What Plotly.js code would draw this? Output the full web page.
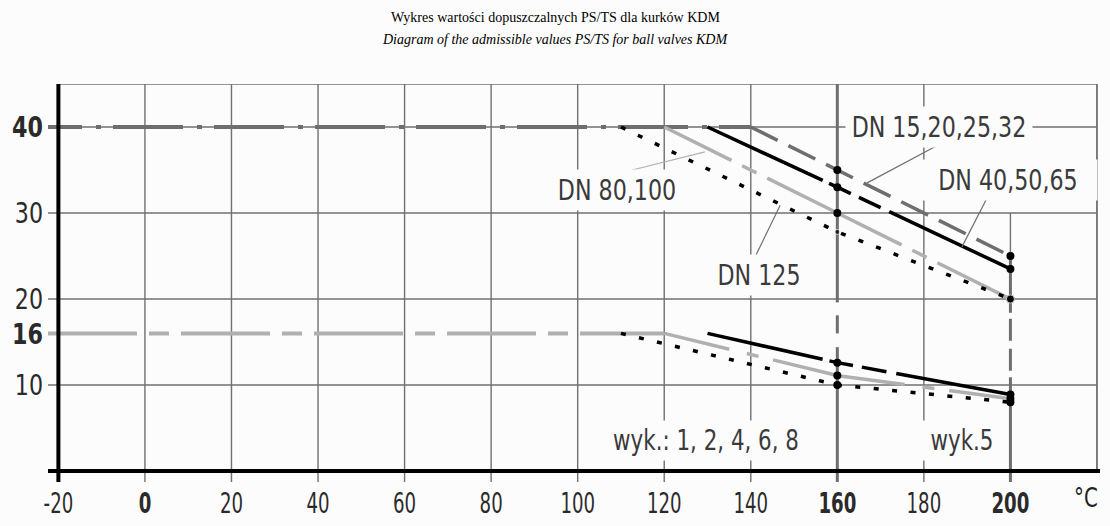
<!DOCTYPE html>
<html><head><meta charset="utf-8">
<script src="https://cdn.plot.ly/plotly-3.0.1.min.js"></script>
<style>html,body{margin:0;padding:0;background:#fcfcfc}</style>
</head><body><div id="chart" style="width:1110px;height:526px"></div>
<script>
// ---------- data ----------
const titlePL = 'Wykres wartości dopuszczalnych PS/TS dla kurków KDM';
const titleEN = 'Diagram of the admissible values PS/TS for ball valves KDM';

const tempTicks = [-20, 0, 20, 40, 60, 80, 100, 120, 140, 160, 180, 200];
const tempTickText = ['-20', '<b>0</b>', '20', '40', '60', '80', '100', '120', '140', '<b>160</b>', '180', '<b>200</b>'];
const pressTicks = [10, 16, 20, 30, 40];
const pressTickText = ['10', '<b>16</b>', '20', '30', '<b>40</b>'];

// PS 40 group (upper)
const pn40T = [-22.4, 140];        const pn40P = [40, 40];
const dn15T = [140, 160, 200];     const dn15P = [40, 35, 25];      // DN 15,20,25,32
const dn40T = [130, 160, 200];     const dn40P = [40, 33, 23.5];    // DN 40,50,65
const dn80T = [120, 160, 200];     const dn80P = [40, 30, 20];      // DN 80,100
const dn125T = [110, 160, 200];    const dn125P = [40, 27.8, 20];   // DN 125
// PS 16 group (lower)
const pn16T = [-22.4, 120];        const pn16P = [16, 16];
const low40T = [130, 160, 200];    const low40P = [16, 12.6, 8.9];
const low80T = [120, 160, 200];    const low80P = [16, 11.1, 8.4];
const low125T = [110, 160, 200];   const low125P = [16, 10, 8];

const labels = ['DN 15,20,25,32', 'DN 40,50,65', 'DN 80,100', 'DN 125', 'wyk.: 1, 2, 4, 6, 8', 'wyk.5'];

// ---------- styling ----------
const BG = '#fcfcfc';
const NARROW = 'Liberation Sans Narrow, DejaVu Sans Condensed, Arial Narrow, sans-serif';
const GRID = '#707070';
const DARK = '#6e6e6e';
const LIGHT = '#b0b0b0';

function line(x, y, color, width, dash) {
  return {x: x, y: y, type: 'scatter', mode: 'lines', hoverinfo: 'skip', showlegend: false,
          line: {color: color, width: width, dash: dash}};
}
function dots(x, y, sizes) {
  return {x: x.slice(1), y: y.slice(1), type: 'scatter', mode: 'markers', hoverinfo: 'skip', showlegend: false,
          cliponaxis: false, marker: {color: '#000', size: sizes}};
}

const traces = [
  line(pn40T, pn40P, DARK, 4, '34px,14px,5px,12px,36px,0px'),
  line(pn16T, pn16P, LIGHT, 4, '89px,12px,20px,12px'),
  line(dn15T, dn15P, DARK, 3.5, '30px,12px'),
  line(dn80T, dn80P, LIGHT, 3.5, '75px,12px,16px,12px,75px,0px'),
  line(dn125T, dn125P, '#000', 3.5, '5px,13.8px'),
  line(dn40T, dn40P, '#000', 3.5, '127px,7px,24px,9px,24px,9.5px,400px,10px'),
  line(low80T, low80P, LIGHT, 3.5, '67px,18px,12px,15px,67px,0px'),
  line(low125T, low125P, '#000', 3.5, '5px,13.5px'),
  line(low40T, low40P, '#000', 3.5, '118px,7px,24px,9px,25px,10px,400px,10px'),
  dots(dn15T, dn15P, 8), dots(dn40T, dn40P, 8), dots(dn80T, dn80P, 8), dots(dn125T, dn125P, [5, 8]),
  dots(low40T, low40P, 8), dots(low80T, low80P, 8), dots(low125T, low125P, 8)
];

// ---------- grid / frame shapes ----------
const xMin = -22.4, xMax = 220.7, yMin = -1.28, yMax = 45;
const gridX = [0, 20, 40, 60, 80, 100, 120, 140, 180];
const gridY = [10, 20, 30, 40];
const shapes = [];
function seg(x0, y0, x1, y1, color, width, dash, layer) {
  shapes.push({type: 'line', xref: 'x', yref: 'y', x0: x0, y0: y0, x1: x1, y1: y1, layer: layer || 'below',
               line: {color: color, width: width, dash: dash || 'solid'}});
}
gridX.forEach(v => seg(v, yMin, v, yMax, GRID, 1.4));
gridY.forEach(v => seg(xMin, v, 220, v, GRID, 1.4));
seg(-20, 45, 220, 45, GRID, 1.6);        // top frame
seg(220, 0, 220, 45, GRID, 1.8);         // right frame
// 160 °C marker line
seg(160, 45, 160, 19.6, DARK, 3);
seg(160, 18.1, 160, 16.0, DARK, 3);
seg(160, 14.4, 160, yMin, DARK, 3);
// 200 °C marker line
seg(200, 30, 200, 25.2, GRID, 1.4);
seg(200, 25.2, 200, 18.4, DARK, 3);
seg(200, 18.4, 200, 10.9, DARK, 3, '0px,6px,22px,8px,22px,6px');
seg(200, 10.9, 200, yMin, DARK, 3);
// axes
seg(-20, yMin, -20, yMax, '#000', 4, 'solid', 'above');
seg(xMin, 0, xMax, 0, '#000', 4, 'solid', 'above');
// leader lines
seg(183.3, 37.9, 166.9, 33.5, GRID, 1.2, 'solid', 'above');
seg(194.6, 31.75, 188.8, 26.06, GRID, 1.2, 'solid', 'above');
seg(112.6, 35.0, 129.4, 37.1, LIGHT, 1.2, 'solid', 'above');
seg(141.0, 24.9, 146.8, 30.9, GRID, 1.2, 'solid', 'above');

function lab(text, x, y, size, boxW) {
  return {text: text, x: x, y: y, xref: 'x', yref: 'y', showarrow: false,
          font: {family: NARROW, size: size, color: '#3a3a3a'}, width: boxW,
          bgcolor: BG, borderpad: 3, xanchor: 'center', yanchor: 'middle'};
}
const annotations = [
  lab(labels[0], 183.5, 40, 29, 180),
  lab(labels[1], 199.5, 33.85, 29, 172),
  lab(labels[2], 109.1, 32.7, 29, 126),
  lab(labels[3], 141.9, 22.8, 29, 90),
  lab(labels[4], 129.7, 3.6, 28, 196),
  lab(labels[5], 188.8, 3.6, 28, 72),
  {text: titlePL, xref: 'paper', yref: 'paper', x: 0.482, y: 1.166, showarrow: false,
   font: {family: 'Liberation Serif, Times New Roman, serif', size: 14, color: '#000'}, xanchor: 'center', yanchor: 'middle'},
  {text: '<i>' + titleEN + '</i>', xref: 'paper', yref: 'paper', x: 0.482, y: 1.1106, showarrow: false,
   font: {family: 'Liberation Serif, Times New Roman, serif', size: 14, color: '#000'}, xanchor: 'center', yanchor: 'middle'},
  {text: '°C', xref: 'paper', yref: 'paper', x: 0.987, y: -0.04, showarrow: false,
   font: {family: NARROW, size: 26, color: '#222'}, xanchor: 'center', yanchor: 'middle'}
];

const layout = {
  width: 1110, height: 526,
  margin: {l: 48, r: 10, t: 84, b: 44},
  paper_bgcolor: BG, plot_bgcolor: BG,
  showlegend: false,
  xaxis: {range: [xMin, xMax], tickmode: 'array', tickvals: tempTicks, ticktext: tempTickText,
          showgrid: false, zeroline: false, showline: false, ticks: '', ticklabelstandoff: 2,
          tickfont: {family: NARROW, size: 28, color: '#2a2a2a'}, fixedrange: true},
  yaxis: {range: [yMin, yMax], tickmode: 'array', tickvals: pressTicks, ticktext: pressTickText,
          showgrid: false, zeroline: false, showline: false, ticks: '', ticklabelstandoff: 4,
          tickfont: {family: NARROW, size: 29, color: '#2a2a2a'}, fixedrange: true},
  shapes: shapes,
  annotations: annotations
};

// condense glyphs horizontally (the reference uses a narrow drafting font)
function squeeze(nodes, f) {
  nodes.forEach(t => {
    const w = t.getComputedTextLength();
    if (w > 0) {
      t.setAttribute('textLength', (w * f).toFixed(1));
      t.setAttribute('lengthAdjust', 'spacingAndGlyphs');
    }
  });
}
Plotly.newPlot('chart', traces, layout, {displayModeBar: false, staticPlot: true}).then(gd => {
  squeeze(gd.querySelectorAll('.xtick text'), 0.72);
  squeeze(gd.querySelectorAll('.ytick text'), 0.85);
  [0, 1, 2, 3, 4, 5, 8].forEach(i => {
    squeeze(gd.querySelectorAll('.annotation[data-index="' + i + '"] text'), 0.85);
  });
});
</script>
</body></html>
